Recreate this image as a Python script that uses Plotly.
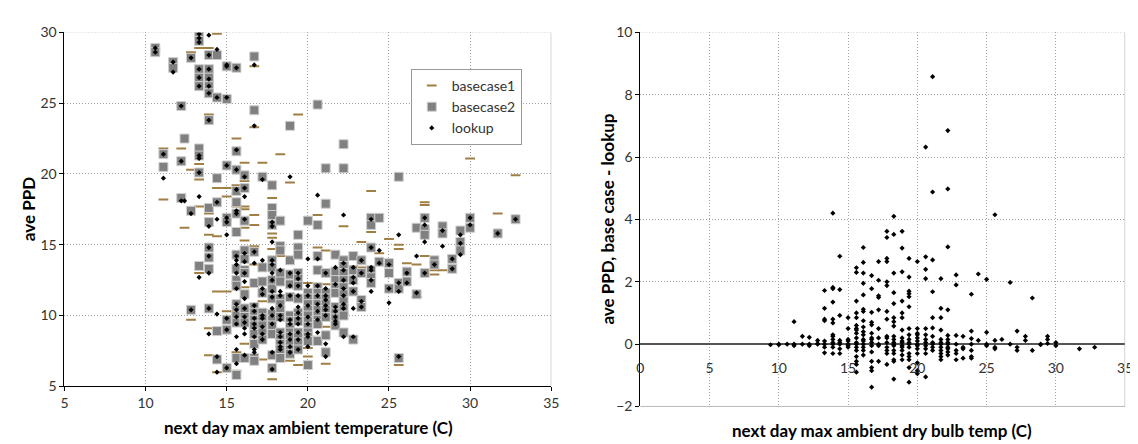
import plotly.graph_objects as go

# ---------------- data ----------------
# each entry: (next-day max ambient temperature in C, [ave PPD values])
basecase1 = [
    (11.1, [21.8, 18.2]), (11.7, [28.1]), (12.2, [25.0, 21.8]), (12.4, [16.2]),
    (12.8, [28.6, 20.3, 9.7]), (13.3, [28.9, 20.7, 19.6, 17.7, 13.0]),
    (13.9, [28.9, 24.2, 17.2, 15.7, 9.1, 7.2]), (14.4, [29.9, 19.0, 15.6, 11.7, 6.0]),
    (15.0, [19.0, 18.4, 11.7, 10.3]), (15.6, [22.5, 19.2, 18.6, 17.7, 7.4, 6.1]),
    (16.1, [20.8, 19.5, 17.7, 17.5, 16.2, 15.3, 12.0, 8.0]),
    (16.7, [27.6, 23.3, 17.1, 16.4, 14.9, 13.6]), (17.2, [20.8, 11.0, 6.9]),
    (17.8, [18.3, 15.8, 15.5, 14.7, 14.1, 5.5]), (18.3, [21.4, 14.2, 12.7]),
    (18.9, [19.4, 12.4, 6.8]), (19.4, [24.2, 13.2, 6.5]), (20.0, [12.3, 7.7, 7.1]),
    (20.6, [17.1, 14.8, 9.4, 8.5]), (21.1, [14.6, 12.2, 9.2, 6.6]), (21.7, [13.0]),
    (22.2, [16.3, 13.7, 10.1]), (22.8, [13.5]), (23.3, [15.2, 13.4]),
    (23.9, [18.8, 15.9]), (24.4, [14.4]), (25.0, [15.4, 11.8]),
    (25.6, [15.0, 14.7, 6.5]), (26.1, [13.7]), (26.7, [13.6, 11.3]),
    (27.2, [18.0, 17.8, 16.1, 14.2]), (27.8, [13.2, 12.9]), (28.3, [13.2]),
    (28.9, [14.2]), (30.0, [21.1, 16.4]), (31.7, [17.2]), (32.8, [19.9]),
]

basecase2 = [
    (10.6, [28.9, 28.6]), (11.1, [21.4, 20.5]), (11.7, [27.9, 27.5]),
    (12.2, [24.8, 20.9, 18.3]), (12.4, [22.5]), (12.8, [28.2, 17.4, 10.4]),
    (13.3, [30.0, 29.4, 27.4, 26.8, 26.2, 21.8, 21.3, 20.1, 13.5]),
    (13.9, [28.4, 27.4, 26.8, 26.2, 25.7, 23.8, 17.6, 16.6, 14.8, 14.1, 13.3, 10.5]),
    (14.4, [28.4, 25.4, 19.7, 18.0, 8.9, 6.9]),
    (15.0, [27.6, 25.3, 20.6, 16.9, 16.6, 9.7, 9.0, 6.3]),
    (15.6, [27.5, 21.6, 20.3, 18.8, 18.0, 17.2, 15.9, 14.3, 13.3, 12.5, 12.1, 10.8,
            10.4, 10.0, 9.5, 7.0, 5.8]),
    (16.1, [19.9, 19.0, 16.7, 14.6, 14.0, 13.2, 13.0, 11.5, 10.5, 9.9, 9.5, 7.0]),
    (16.7, [28.3, 24.5, 14.5, 12.3, 10.6, 10.2, 9.7, 9.3, 8.7, 8.0, 7.0, 6.8]),
    (17.2, [19.8, 13.4, 12.4, 11.6, 10.2, 9.8, 9.3, 8.8, 8.3]),
    (17.8, [19.2, 17.6, 17.1, 16.4, 13.9, 13.4, 12.5, 11.9, 11.2, 10.1, 9.7, 9.3,
            8.7, 7.2, 6.3]),
    (18.3, [16.7, 14.9, 14.6, 13.0, 12.4, 11.2, 10.8, 10.4, 9.9, 8.8, 8.4, 8.0, 7.6, 7.0]),
    (18.9, [23.4, 13.9, 12.9, 12.2, 11.3, 10.0, 9.6, 9.2, 8.8, 8.5, 8.0, 7.6, 7.3]),
    (19.4, [15.7, 14.8, 14.3, 13.0, 12.6, 12.1, 11.2, 10.2, 9.9, 9.6, 8.8, 8.5, 8.1, 7.6]),
    (20.0, [16.7, 11.6, 11.2, 10.8, 10.4, 10.0, 9.6, 9.2, 8.8, 8.5, 8.2, 6.5]),
    (20.6, [24.9, 16.4, 14.2, 13.2, 12.0, 11.6, 11.2, 10.8, 10.4, 10.0, 9.7, 9.4, 8.2]),
    (21.1, [20.4, 17.9, 13.0, 11.6, 11.2, 10.8, 10.4, 9.9, 8.6, 7.4]),
    (21.7, [14.3, 13.1, 12.5, 12.0, 11.6, 10.6, 10.2, 9.8, 9.3]),
    (22.2, [22.1, 20.4, 13.9, 13.5, 13.0, 12.5, 12.0, 11.5, 11.0, 10.5, 10.0, 8.8]),
    (22.8, [14.2, 13.2, 12.5, 11.7, 8.3]), (23.3, [13.9, 13.0, 11.1, 10.6]),
    (23.9, [16.9, 16.4, 14.8, 13.2, 12.7, 12.3]), (24.4, [16.9, 13.8]),
    (25.0, [13.7, 13.0, 11.9]), (25.6, [19.8, 12.3, 11.9, 7.0]), (26.1, [13.1, 12.4]),
    (26.7, [16.2, 11.5]), (27.2, [16.9, 16.1, 15.7, 13.0]), (27.8, [13.9, 13.6]),
    (28.3, [16.3, 15.8]), (28.9, [14.0, 13.3]), (29.4, [16.0, 15.2, 14.6]),
    (30.0, [16.9, 16.2]), (31.7, [15.8]), (32.8, [16.8]),
]

lookup = [
    (10.6, [28.9, 28.6]), (11.1, [21.4, 19.7]), (11.7, [27.9, 27.2]),
    (12.2, [24.8, 20.9, 18.1]), (12.4, [18.1]), (12.8, [28.2, 17.2, 10.4]),
    (13.3, [29.9, 29.6, 29.3, 27.4, 26.8, 26.2, 21.3, 21.1, 20.1, 18.4, 12.7]),
    (13.9, [29.8, 28.4, 27.4, 26.7, 26.2, 25.7, 23.8, 16.3, 14.8, 14.2, 13.0, 10.5, 8.7]),
    (14.4, [28.8, 25.4, 18.0, 16.8, 10.1, 7.1, 6.0]),
    (15.0, [27.7, 27.6, 25.4, 20.6, 16.9, 16.6, 15.7, 9.8, 9.0, 6.3]),
    (15.6, [27.5, 21.7, 20.3, 18.9, 17.4, 17.2, 14.2, 13.9, 13.6, 13.0, 11.9, 10.8,
            10.4, 9.9, 9.4, 8.5, 7.6, 6.6]),
    (16.1, [19.8, 19.0, 18.4, 16.8, 14.4, 13.8, 13.0, 12.4, 11.2, 10.5, 9.9, 9.5, 9.1,
            8.7, 7.2]),
    (16.7, [27.7, 23.4, 14.5, 13.7, 10.7, 10.3, 9.8, 9.4, 9.1, 8.5, 7.6, 7.4]),
    (17.2, [19.6, 13.9, 11.9, 11.5, 10.0, 9.8, 9.2, 8.7, 8.3]),
    (17.8, [16.6, 16.3, 15.2, 13.9, 13.6, 13.0, 12.5, 11.7, 11.3, 10.5, 10.0, 9.4, 7.4, 6.2]),
    (18.3, [13.2, 11.7, 11.4, 10.7, 10.0, 9.7, 8.8, 8.5, 8.1, 7.8, 7.6]),
    (18.9, [19.8, 13.0, 12.1, 11.4, 9.7, 9.4, 8.7, 8.3, 7.8, 7.4]),
    (19.4, [13.0, 12.6, 12.1, 11.4, 10.6, 10.2, 9.8, 9.4, 8.8, 8.3, 7.6]),
    (20.0, [14.0, 12.1, 11.4, 10.7, 9.9, 9.4, 8.7, 8.5, 7.8]),
    (20.6, [18.5, 14.0, 12.1, 11.4, 10.8, 10.3, 9.7, 8.8]),
    (21.1, [13.0, 11.9, 11.4, 11.1, 10.7, 10.4, 10.0, 8.0, 7.1]),
    (21.7, [13.4, 12.2, 10.6, 10.3, 9.9, 9.6, 9.4]),
    (22.2, [17.1, 13.7, 13.2, 12.5, 11.9, 11.4, 10.8, 10.5, 8.5]),
    (22.8, [13.4, 12.7, 12.3, 11.7, 10.5, 8.5]), (23.3, [13.9, 13.0, 11.0, 10.6]),
    (23.9, [16.8, 14.8, 13.4, 13.2, 12.5, 11.7]), (24.4, [14.6, 13.7]),
    (25.0, [13.6, 11.9, 10.9]), (25.6, [15.7, 12.3, 11.7, 7.1]), (26.1, [13.0, 12.3]),
    (26.7, [14.2, 11.6]), (27.2, [16.9, 16.4, 15.2, 13.0]), (27.8, [13.6]),
    (28.3, [16.0, 14.9]), (28.9, [14.0, 13.3]), (29.4, [15.7, 15.1, 14.3]),
    (30.0, [16.9, 16.4]), (31.7, [15.8]), (32.8, [16.8]),
]

# right chart: ave PPD, base case - lookup
difference = [
    (9.4, [-0.02]), (10.0, [0.0, -0.02]), (10.6, [0.0]), (11.1, [0.72, 0.0, -0.05]),
    (11.7, [0.25, 0.0]), (12.2, [0.22, 0.0, -0.05]), (12.8, [0.12, 0.02, 0.0]),
    (13.3, [1.72, 1.15, 0.8, 0.75, 0.1, 0.0, -0.1, -0.28]),
    (13.9, [4.2, 1.82, 1.78, 1.35, 0.8, 0.68, 0.3, 0.25, 0.15, 0.05, 0.0, -0.1, -0.3]),
    (14.4, [2.82, 1.75, 0.92, 0.12, 0.05, 0.0, -0.15, -0.3]),
    (15.0, [0.85, 0.5, 0.15, 0.1, 0.0, -0.05, -0.1]),
    (15.6, [2.45, 2.3, 1.38, 1.0, 0.85, 0.6, 0.5, 0.45, 0.35, 0.2, 0.05, 0.0, -0.1,
            -0.2, -0.4, -0.55, -0.65, -0.9]),
    (16.1, [3.1, 2.62, 2.28, 1.95, 1.58, 1.12, 1.05, 0.75, 0.55, 0.4, 0.3, 0.15, 0.1,
            0.0, -0.1, -0.2, -0.35]),
    (16.7, [2.2, 1.78, 1.02, 0.7, 0.62, 0.35, 0.2, 0.15, 0.05, -0.05, -0.25, -0.55,
            -0.75, -0.85, -1.38]),
    (17.2, [2.65, 2.05, 1.55, 1.5, 1.1, 0.5, 0.2, 0.0, -0.05, -0.55]),
    (17.8, [3.62, 3.42, 2.75, 2.65, 2.0, 1.88, 1.05, 0.8, 0.25, 0.2, 0.05, -0.1, -0.2,
            -0.3, -0.65]),
    (18.3, [4.1, 3.52, 2.28, 1.65, 1.3, 0.85, 0.72, 0.58, 0.25, 0.15, 0.05, 0.0, -0.05,
            -0.2, -0.3, -0.5, -0.55, -1.12]),
    (18.9, [3.62, 3.08, 2.32, 1.38, 1.0, 0.85, 0.45, 0.2, 0.1, 0.05, -0.05, -0.1, -0.2,
            -0.35, -0.5]),
    (19.4, [2.75, 2.15, 1.7, 1.62, 1.52, 1.2, 0.5, 0.3, 0.15, 0.05, 0.0, -0.1, -0.3,
            -0.4, -0.5, -0.75, -1.22]),
    (20.0, [2.65, 0.5, 0.35, 0.3, 0.2, 0.1, 0.0, -0.05, -0.15, -0.3, -0.6, -0.85, -0.95]),
    (20.6, [6.32, 2.8, 2.4, 2.1, 0.5, 0.3, 0.15, 0.05, -0.05, -0.15, -0.3, -1.05]),
    (21.1, [8.58, 4.88, 2.7, 1.68, 0.85, 0.52, 0.25, 0.05, 0.0, -0.1, -0.2]),
    (21.7, [2.1, 1.15, 0.85, 0.45, 0.15, 0.05, 0.0, -0.1, -0.2, -0.3, -0.4, -0.5]),
    (22.2, [6.85, 4.98, 3.12, 1.1, 0.28, 0.15, 0.05, 0.0, -0.1, -0.15, -0.25, -0.35]),
    (22.8, [2.22, 1.9, 0.28, 0.0, -0.2, -0.3, -0.5]), (23.3, [0.25, -0.1, -0.15, -0.45]),
    (23.9, [1.6, 0.42, 0.18, 0.0, -0.2, -0.4, -0.45]), (24.4, [2.25, 0.12]),
    (25.0, [2.08, 0.38, 0.0, -0.05]), (25.6, [4.15, 0.12, -0.1, -0.15]), (26.1, [0.15]),
    (26.7, [1.98, 0.0]), (27.2, [0.42, -0.1, -0.2]), (27.8, [0.25, 0.12]),
    (28.3, [1.48, -0.2]), (28.9, [0.0, -0.02]), (29.4, [0.25, 0.15, 0.02]),
    (30.0, [0.05, -0.05]), (31.7, [-0.15]), (32.8, [-0.1]),
]


def expand(columns):
    xs, ys = [], []
    for t, vals in columns:
        for v in vals:
            xs.append(t)
            ys.append(v)
    return xs, ys


FONT = "Lato"
GRID = "#a0a0a0"
DOT = "1px,2px"

fig = go.Figure()

x1, y1 = expand(basecase1)
x2, y2 = expand(basecase2)
x3, y3 = expand(lookup)
x4, y4 = expand(difference)

fig.add_trace(go.Scatter(
    x=x1, y=y1, mode="markers", name="basecase1", xaxis="x", yaxis="y",
    marker=dict(symbol="line-ew", size=7, color="#A07F45",
                line=dict(color="#A07F45", width=2))))
fig.add_trace(go.Scatter(
    x=x2, y=y2, mode="markers", name="basecase2", xaxis="x", yaxis="y",
    marker=dict(symbol="square", size=9, color="#808080",
                line=dict(color="#cfcfcf", width=1))))
fig.add_trace(go.Scatter(
    x=x3, y=y3, mode="markers", name="lookup", xaxis="x", yaxis="y",
    marker=dict(symbol="diamond", size=4, color="black")))
fig.add_trace(go.Scatter(
    x=x4, y=y4, mode="markers", name="difference", xaxis="x2", yaxis="y2",
    showlegend=False,
    marker=dict(symbol="diamond", size=4, color="black")))

W, H = 1138, 444
L1, R1, T1, B1 = 53, 545, 16, 384
L2, R2, T2, B2 = 635, 1125, 16, 405

tickfont = dict(family=FONT, size=14, color="#333")
common = dict(showline=True, linecolor="black", linewidth=1, ticks="outside",
              ticklen=4, tickcolor="black", showgrid=True, gridcolor=GRID,
              griddash=DOT, gridwidth=1, zeroline=False, tickfont=tickfont)

fig.update_layout(
    width=W, height=H,
    margin=dict(l=0, r=0, t=0, b=0),
    paper_bgcolor="white", plot_bgcolor="white",
    font=dict(family=FONT, color="#333"),
    xaxis=dict(domain=[L1 / W, R1 / W], range=[5, 35], dtick=5, anchor="y", **common),
    yaxis=dict(domain=[1 - B1 / H, 1 - T1 / H], range=[5, 30], dtick=5, anchor="x",
               **common),
    xaxis2=dict(domain=[L2 / W, R2 / W], range=[0, 35], dtick=5, anchor="free",
                position=1 - 340.5 / H, showline=False, ticks="outside", ticklen=11,
                tickcolor="rgba(0,0,0,0)", showgrid=True, gridcolor=GRID,
                griddash=DOT, zeroline=False, tickfont=tickfont),
    yaxis2=dict(domain=[1 - B2 / H, 1 - T2 / H], range=[-2, 10], dtick=2, anchor="x2",
                showline=True, linecolor="black", linewidth=1, ticks="outside",
                ticklen=4, tickcolor="black", showgrid=True, gridcolor=GRID,
                griddash=DOT, zeroline=True, zerolinecolor="#555",
                zerolinewidth=1.5, tickfont=tickfont),
    legend=dict(x=403 / W, y=1 - 54 / H, xanchor="left", yanchor="top",
                bordercolor="#999", borderwidth=1, bgcolor="white",
                font=dict(family=FONT, size=14, color="#333"),
                tracegroupgap=4),
    showlegend=True,
)

# chart borders (top / right) and right-chart bottom line
shapes = [
    dict(type="line", xref="x", yref="y", x0=5, x1=35, y0=30, y1=30,
         line=dict(color=GRID, width=1, dash=DOT)),
    dict(type="line", xref="x", yref="y", x0=35, x1=35, y0=5, y1=30,
         line=dict(color=GRID, width=1)),
    dict(type="line", xref="x2", yref="y2", x0=0, x1=35, y0=10, y1=10,
         line=dict(color=GRID, width=1, dash=DOT)),
    dict(type="line", xref="x2", yref="y2", x0=35, x1=35, y0=-2, y1=10,
         line=dict(color=GRID, width=1)),
    dict(type="line", xref="x2", yref="y2", x0=0, x1=35, y0=-2, y1=-2,
         line=dict(color="#777", width=1)),
]
fig.update_layout(shapes=shapes)

title_font = dict(family=FONT, size=17, color="black")
common_ann = dict(xref="paper", yref="paper", showarrow=False, font=title_font,
                  xanchor="center", yanchor="middle")
fig.update_layout(annotations=[
    dict(text="<b>ave PPD</b>", x=17 / W, y=1 - 200 / H, textangle=-90, **common_ann),
    dict(text="<b>next day max ambient temperature (C)</b>", x=300 / W, y=1 - 427 / H,
         **common_ann),
    dict(text="<b>ave PPD, base case - lookup</b>", x=602 / W, y=1 - 210 / H,
         textangle=-90, **common_ann),
    dict(text="<b>next day max ambient dry bulb temp (C)</b>", x=879 / W, y=1 - 430 / H,
         **common_ann),
])

fig.write_html("out.html")
